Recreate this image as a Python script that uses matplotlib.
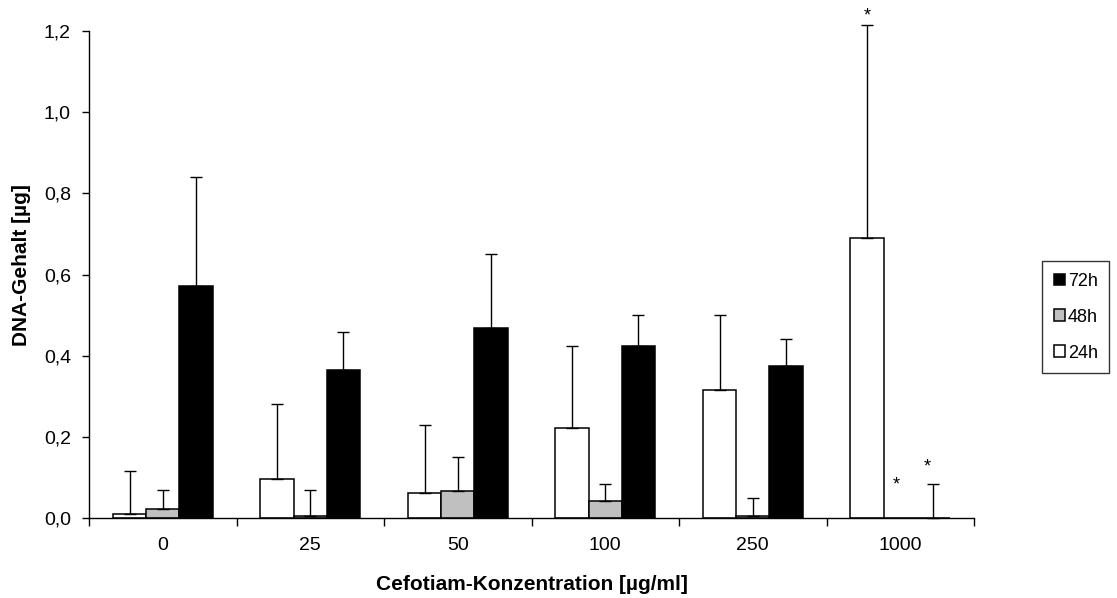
import numpy as np
import matplotlib.pyplot as plt

plt.rcParams['font.family'] = ['Liberation Sans', 'DejaVu Sans']

# Konzentrationen und Messwerte
konz = ['0', '25', '50', '100', '250', '1000']
mw_24h = [0.009, 0.097, 0.061, 0.222, 0.315, 0.69]
mw_48h = [0.021, 0.005, 0.066, 0.041, 0.005, 0.0]
mw_72h = [0.572, 0.365, 0.468, 0.424, 0.375, 0.0]
sd_24h = [0.108, 0.184, 0.169, 0.202, 0.185, 0.525]
sd_48h = [0.048, 0.064, 0.084, 0.044, 0.044, 0.0]
sd_72h = [0.268, 0.093, 0.183, 0.076, 0.066, 0.085]

x = np.arange(len(konz))
b = 0.225

fig = plt.figure(figsize=(11.17, 5.98), dpi=100)
ax = fig.add_axes([89/1117, 80/598, 885/1117, 487/598])

serien = [(mw_24h, sd_24h, 'white', '24h', -b),
          (mw_48h, sd_48h, '#c0c0c0', '48h', 0),
          (mw_72h, sd_72h, 'black', '72h', b)]
handles = []
for mw, sd, farbe, lab, dx in serien:
    h = ax.bar(x + dx, mw, b, color=farbe, edgecolor='black', lw=1.1, label=lab, zorder=2)
    handles.append(h)
    sel = np.array(sd) > 0
    ax.errorbar((x + dx)[sel], np.array(mw)[sel], yerr=[np.zeros(sel.sum()), np.array(sd)[sel]],
                fmt='none', ecolor='black', elinewidth=1.0, capsize=4.3, capthick=1.0,
                zorder=3, clip_on=False)

# Sternchen
ax.text(5 - b, 1.215, '*', ha='center', va='bottom', fontsize=13)
ax.text(5 - 0.03, 0.06, '*', ha='center', va='bottom', fontsize=13)
ax.text(5 + b - 0.045, 0.105, '*', ha='center', va='bottom', fontsize=13)

ax.set_xlim(-0.5, 5.5)
ax.set_ylim(0, 1.2)
ax.set_yticks(np.arange(0, 1.21, 0.2))
ax.set_yticklabels([('%.1f' % v).replace('.', ',') for v in np.arange(0, 1.21, 0.2)], fontsize=14)
ax.set_xticks(x)
ax.set_xticklabels(konz, fontsize=14)
ax.set_xticks(np.arange(-0.5, 5.6, 1), minor=True)
ax.tick_params(axis='x', which='major', length=0, pad=14)
ax.tick_params(axis='x', which='minor', length=6, direction='out', width=1)
ax.tick_params(axis='y', length=5, width=1, pad=8)
for s in ['top', 'right']:
    ax.spines[s].set_visible(False)
for s in ['left', 'bottom']:
    ax.spines[s].set_linewidth(1)

ax.set_xlabel('Cefotiam-Konzentration [µg/ml]', fontsize=15, fontweight='bold')
ax.set_ylabel('DNA-Gehalt [µg]', fontsize=15, fontweight='bold')
ax.xaxis.set_label_coords(0.5, -0.117)
ax.yaxis.set_label_coords(-0.066, 0.52)

leg = fig.legend(handles[::-1], ['72h', '48h', '24h'], loc='upper left',
                 bbox_to_anchor=(1042/1117, 1 - 261/598), fontsize=13, frameon=True,
                 fancybox=False, edgecolor='black', handlelength=0.62, handleheight=0.62,
                 handletextpad=0.15, labelspacing=1.05, borderpad=0.65, borderaxespad=0)
leg.get_frame().set_linewidth(1)

plt.savefig('out.png', dpi=100)
